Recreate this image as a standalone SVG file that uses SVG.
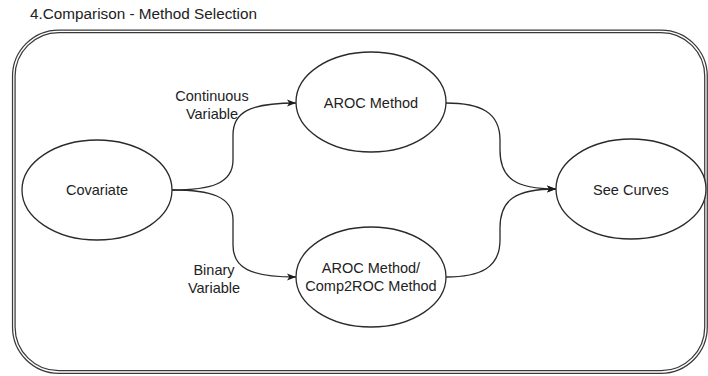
<svg xmlns="http://www.w3.org/2000/svg" width="708" height="376" viewBox="0 0 708 376">
  <defs>
    <marker id="arrow" viewBox="0 0 10 8" refX="10" refY="4" markerWidth="9" markerHeight="7.2" markerUnits="userSpaceOnUse" orient="auto">
      <path d="M0,0 L10,4 L0,8 L2.5,4 Z" fill="#1a1a1a"/>
    </marker>
    <style>
      text { font-family: "Liberation Sans", Arial, Helvetica, sans-serif; font-size: 14.5px; fill: #222; }
      .title { font-size: 15.3px; }
      .node ellipse { fill: #ffffff; stroke: #2a2a2a; stroke-width: 1.3; }
      .node text, .label { text-anchor: middle; }
      .edge { fill: none; stroke: #2a2a2a; stroke-width: 1.3; marker-end: url(#arrow); }
      .frame-outer { fill: #ffffff; stroke: #3a3a3a; stroke-width: 3.8; }
      .frame-inner { fill: none; stroke: #ffffff; stroke-width: 1.3; }
    </style>
  </defs>

  <rect width="708" height="376" fill="#ffffff"/>

  <!-- container with double border -->
  <g id="container">
    <text class="title" x="30" y="19">4.Comparison - Method Selection</text>
    <rect class="frame-outer" x="13.8" y="31.3" width="692.2" height="340.7" rx="45" ry="45"/>
    <rect class="frame-inner" x="13.8" y="31.3" width="692.2" height="340.7" rx="45" ry="45"/>
  </g>

  <!-- connectors -->
  <g id="connectors">
    <path class="edge" d="M172,190 C210,190 233,184 233,160 L233,135 C233,112 250,103 296,103"/>
    <path class="edge" d="M172,190 C210,190 233,196 233,220 L233,245 C233,268 250,277 296,277"/>
    <path class="edge" d="M446,103 C480,103 500,112 500,140 L500,150 C500,178 515,189 556,189"/>
    <path class="edge" d="M446,277 C480,277 500,268 500,240 L500,228 C500,200 515,189 556,189"/>
    <text class="label" x="212" y="100.5">Continuous</text>
    <text class="label" x="212" y="119">Variable</text>
    <text class="label" x="214" y="274.5">Binary</text>
    <text class="label" x="214" y="292.5">Variable</text>
  </g>

  <g id="covariate" class="node">
    <ellipse cx="97" cy="190" rx="75" ry="50"/>
    <text x="97" y="195">Covariate</text>
  </g>

  <g id="aroc" class="node">
    <ellipse cx="371" cy="102" rx="75" ry="50"/>
    <text x="371" y="108">AROC Method</text>
  </g>

  <g id="aroc-comp2roc" class="node">
    <ellipse cx="371" cy="277" rx="75" ry="50"/>
    <text x="371" y="272.5">AROC Method/</text>
    <text x="371" y="291">Comp2ROC Method</text>
  </g>

  <g id="see-curves" class="node">
    <ellipse cx="631" cy="189" rx="75" ry="50"/>
    <text x="631" y="194.5">See Curves</text>
  </g>
</svg>
